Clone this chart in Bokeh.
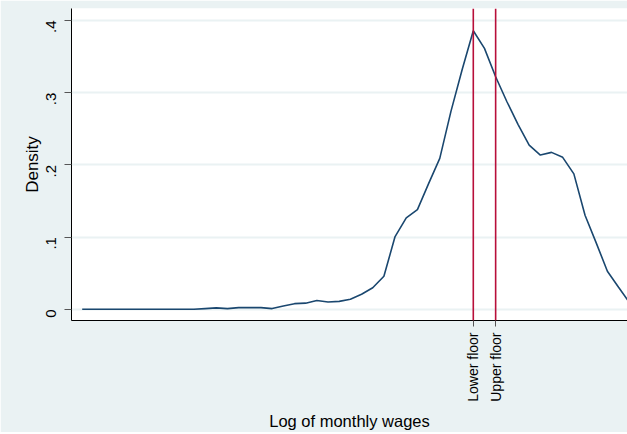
import math
from bokeh.plotting import figure
from bokeh.models import FixedTicker, Range1d, Span, CustomJSTickFormatter
from bokeh.embed import file_html
from bokeh.resources import INLINE

# Kernel density estimate, 50 evaluation points (log of monthly wages)
log_wage = [1.40 + 0.16 * i for i in range(50)]
density = [
    0.0, 0.0, 0.0, 0.0, 0.0, 0.0, 0.0, 0.0, 0.0, 0.0,
    0.0, 0.001, 0.002, 0.001, 0.0023, 0.0023, 0.0023, 0.001, 0.0047, 0.0078,
    0.0085, 0.0123, 0.0102, 0.011, 0.014, 0.0208, 0.0298, 0.0458, 0.1007, 0.1267,
    0.138, 0.174, 0.209, 0.274, 0.3316, 0.3857, 0.3613, 0.322, 0.2877, 0.2561,
    0.2273, 0.2136, 0.2173, 0.2104, 0.1875, 0.1303, 0.092, 0.0527, 0.0305, 0.0087,
]
lower_floor = 7.0
upper_floor = 7.32
y_ticks = [0, 0.1, 0.2, 0.3, 0.4]
x_tick_labels = {lower_floor: "Lower floor", upper_floor: "Upper floor"}

BG = "#EAF2F3"
NAVY = "#1A476F"
RED = "#B80F3A"
FONT = "Liberation Sans"

p = figure(width=627, height=432, output_backend="svg", toolbar_location=None,
           x_range=Range1d(1.40 - 0.16 * 0.957, 1.40 + 0.16 * 48.8),
           y_range=Range1d(-0.0155, 0.4165),
           min_border_left=71, min_border_right=0, min_border_top=8, min_border_bottom=109)
p.background_fill_color = "white"
p.border_fill_color = BG
p.outline_line_color = None

# grid
p.xgrid.grid_line_color = None
p.ygrid.grid_line_color = BG
p.ygrid.grid_line_width = 2
p.ygrid.ticker = FixedTicker(ticks=y_ticks)

p.line(log_wage, density, line_color=NAVY, line_width=1.6)

for xv in (lower_floor, upper_floor):
    p.add_layout(Span(location=xv, dimension="height", line_color=RED, line_width=1.6))

# y axis
ya = p.yaxis[0]
ya.ticker = FixedTicker(ticks=y_ticks)
ya.formatter = CustomJSTickFormatter(code="return tick == 0 ? '0' : tick.toFixed(1).replace(/^0/, '');")
ya.major_label_orientation = math.pi / 2
ya.axis_label = "Density"
ya.axis_label_text_font = FONT
ya.axis_label_text_font_size = "17px"
ya.axis_label_text_font_style = "normal"
ya.axis_label_text_color = "black"
ya.axis_label_standoff = -3
ya.major_label_text_font = FONT
ya.major_label_text_font_size = "15px"
ya.major_label_text_color = "black"
ya.major_label_standoff = 13
ya.major_tick_in = 0
ya.major_tick_out = 7
ya.major_tick_line_color = "#555555"
ya.minor_tick_line_color = None
ya.axis_line_color = "black"

# x axis
xa = p.xaxis[0]
xa.ticker = FixedTicker(ticks=[lower_floor, upper_floor])
xa.major_label_overrides = x_tick_labels
xa.major_label_orientation = math.pi / 2
xa.axis_label = "Log of monthly wages"
xa.axis_label_text_font = FONT
xa.axis_label_text_font_size = "16.5px"
xa.axis_label_text_font_style = "normal"
xa.axis_label_text_color = "black"
xa.axis_label_standoff = 7
xa.major_label_text_font = FONT
xa.major_label_text_font_size = "14px"
xa.major_label_text_color = "black"
xa.major_label_standoff = 6
xa.major_tick_in = 0
xa.major_tick_out = 6
xa.major_tick_line_color = "#555555"
xa.minor_tick_line_color = None
xa.axis_line_color = "black"

open("out.html", "w").write(file_html(p, INLINE))
